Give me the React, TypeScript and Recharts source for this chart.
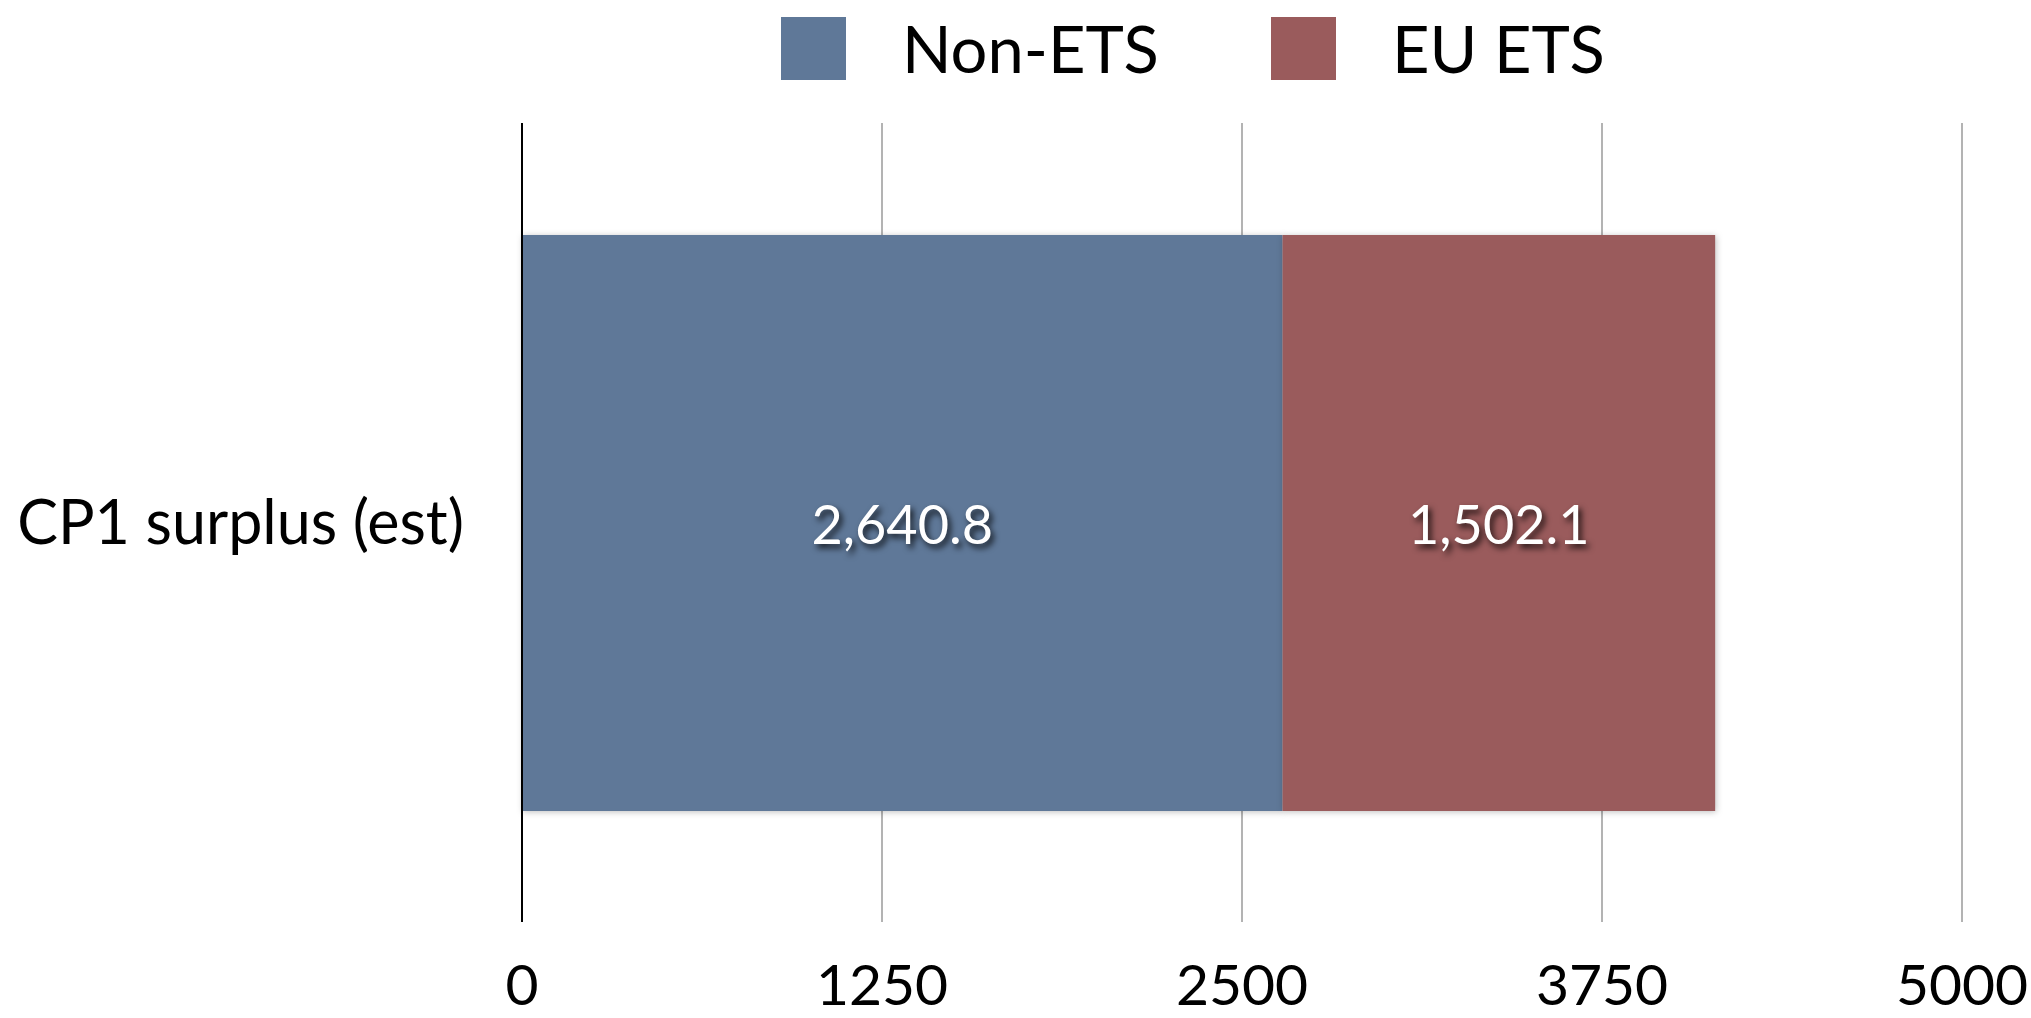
import { BarChart, Bar, XAxis, YAxis, CartesianGrid, Legend, LabelList, Rectangle } from 'recharts'

const categories = ['CP1 surplus (est)']
const nonEts = [2640.8]
const euEts = [1502.1]
const xTicks = [0, 1250, 2500, 3750, 5000]

const SERIES = [
  { key: 'nonEts', name: 'Non-ETS', color: '#5f7898' },
  { key: 'euEts', name: 'EU ETS', color: '#9a5b5c' },
]

const data = categories.map((name, i) => ({ name, nonEts: nonEts[i], euEts: euEts[i] }))

const FONT = 'Lato, "Open Sans", sans-serif'

const fmt = (v: number) =>
  v.toLocaleString('en-US', { minimumFractionDigits: 1, maximumFractionDigits: 1 })

function ValueLabel(props: any) {
  const { x, y, width, height, value } = props
  return (
    <text
      x={x + width / 2}
      y={y + height / 2}
      fill="#fff"
      fontSize={54}
      fontFamily={FONT}
      textAnchor="middle"
      dominantBaseline="central"
      style={{ filter: 'drop-shadow(3px 4px 3px rgba(0,0,0,0.8))' }}
    >
      {fmt(value)}
    </text>
  )
}

// soft shadow like the keynote bars
const ShadowBar = (props: any) => (
  <Rectangle {...props} style={{ filter: 'drop-shadow(1px 1px 3px rgba(0,0,0,0.25))' }} />
)

function LegendContent() {
  return (
    <div style={{ height: 96, display: 'flex', alignItems: 'center', paddingLeft: 781, fontFamily: FONT }}>
      {SERIES.map((s, i) => (
        <div key={s.key} style={{ display: 'flex', alignItems: 'center', marginRight: i === 0 ? 112 : 0 }}>
          <div style={{ width: 65, height: 63, background: s.color, marginRight: 56 }} />
          <span style={{ fontSize: 65, color: '#000', lineHeight: 1 }}>{s.name}</span>
        </div>
      ))}
    </div>
  )
}

export default function App() {
  return (
    <div style={{ position: 'absolute', left: 0, top: 0, background: '#fff' }}>
      <BarChart
        width={2031}
        height={1018}
        data={data}
        layout="vertical"
        margin={{ top: 27, right: 69, left: 0, bottom: 0 }}
        barSize={576}
      >
        <CartesianGrid horizontal={false} stroke="#b3b3b3" strokeWidth={2} />
        <XAxis
          type="number"
          domain={[0, 5000]}
          ticks={xTicks}
          axisLine={false}
          tickLine={false}
          tickMargin={37}
          height={96}
          tick={{ fontSize: 57, fill: '#000', fontFamily: FONT }}
        />
        <YAxis
          type="category"
          dataKey="name"
          width={522}
          axisLine={{ stroke: '#000', strokeWidth: 2 }}
          tickLine={false}
          tickMargin={52}
          tick={{ fontSize: 61, fill: '#000', fontFamily: FONT }}
        />
        <Legend verticalAlign="top" wrapperStyle={{ left: 0, top: 0, width: 2031 }} content={LegendContent} />
        {SERIES.map((s) => (
          <Bar
            key={s.key}
            dataKey={s.key}
            name={s.name}
            stackId="a"
            fill={s.color}
            shape={ShadowBar}
            isAnimationActive={false}
          >
            <LabelList dataKey={s.key} content={ValueLabel} />
          </Bar>
        ))}
      </BarChart>
    </div>
  )
}
